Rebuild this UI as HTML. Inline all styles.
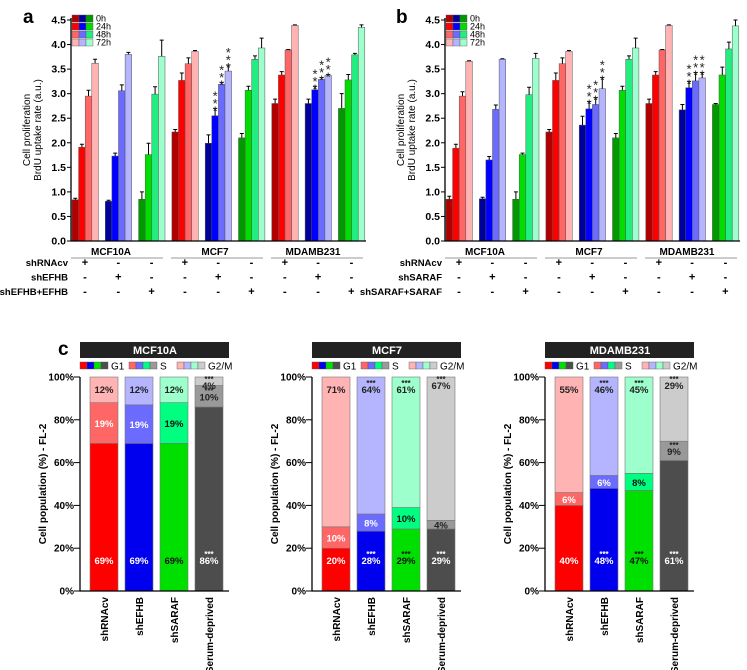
<!DOCTYPE html>
<html><head><meta charset="utf-8">
<style>
html,body{margin:0;padding:0;background:#fff;}
svg{display:block;font-family:"Liberation Sans",Arial,sans-serif;}
</style></head>
<body>
<svg id="fig" width="747" height="670" viewBox="0 0 747 670" xmlns="http://www.w3.org/2000/svg">
<text x="23" y="23" font-size="19" font-weight="bold">a</text>
<text x="396" y="23" font-size="19" font-weight="bold">b</text>
<text x="58" y="355" font-size="19" font-weight="bold">c</text>
</svg>
<script>
// ---------- Data: panels a / b (BrdU uptake) ----------
const timeLabels = ["0h","24h","48h","72h"];
const cellLines = ["MCF10A","MCF7","MDAMB231"];
const yTicksAB = [0,0.5,1.0,1.5,2.0,2.5,3.0,3.5,4.0,4.5];
const valuesA = [
 [0.84,1.91,2.95,3.62],[0.81,1.73,3.06,3.80],[0.85,1.76,2.99,3.76],
 [2.22,3.27,3.61,3.86],[1.99,2.55,3.19,3.46],[2.10,3.07,3.70,3.93],
 [2.80,3.38,3.89,4.39],[2.80,3.08,3.29,3.37],[2.70,3.28,3.79,4.35]];
const errorsA = [
 [0.03,0.06,0.12,0.08],[0.02,0.06,0.12,0.04],[0.15,0.23,0.15,0.33],
 [0.05,0.15,0.12,0.02],[0.17,0.15,0.04,0.12],[0.09,0.08,0.07,0.20],
 [0.09,0.07,0.01,0.01],[0.09,0.07,0.04,0.02],[0.30,0.11,0.03,0.05]];
const valuesB = [
 [0.85,1.89,2.95,3.66],[0.86,1.65,2.68,3.70],[0.85,1.76,2.98,3.72],
 [2.22,3.27,3.61,3.86],[2.36,2.69,2.78,3.10],[2.10,3.07,3.70,3.93],
 [2.80,3.38,3.89,4.39],[2.67,3.12,3.26,3.32],[2.78,3.38,3.91,4.38]];
const errorsB = [
 [0.06,0.08,0.09,0.01],[0.03,0.07,0.09,0.01],[0.15,0.03,0.15,0.10],
 [0.05,0.15,0.12,0.02],[0.18,0.15,0.14,0.23],[0.09,0.08,0.07,0.20],
 [0.09,0.07,0.01,0.01],[0.11,0.13,0.17,0.11],[0.02,0.16,0.14,0.12]];
const starsAB = [[4,1],[4,2],[4,3],[7,1],[7,2],[7,3]];

// ---------- Data: panel c (cell cycle) ----------
const cycleCats = ["shRNAcv","shEFHB","shSARAF","Serum-deprived"];
const yTicksC = [0,20,40,60,80,100];
const g1MCF10A = [69,69,69,86], sMCF10A = [19,18,19,10];
const g1MCF7 = [20,28,29,29], sMCF7 = [10,8,10,4];
const g1MDA = [40,48,47,61], sMDA = [6,6,8,9];
const lblMCF10A = [["69%","19%","12%"],["69%","19%","12%"],["69%","19%","12%"],["86%","10%","4%"]];
const lblMCF7 = [["20%","10%","71%"],["28%","8%","64%"],["29%","10%","61%"],["29%","4%","67%"]];
const lblMDA = [["40%","6%","55%"],["48%","6%","46%"],["47%","8%","45%"],["61%","9%","29%"]];
const starMCF10A = [[0,0,0],[0,0,0],[0,0,0],[1,1,1]];
const starMCF7 = [[0,0,0],[1,0,1],[1,0,1],[1,1,1]];
const starMDA = [[0,0,0],[1,0,1],[1,0,1],[1,1,1]];

const NS="http://www.w3.org/2000/svg";
const svg=document.getElementById('fig');
function mk(tag,attrs,parent){const e=document.createElementNS(NS,tag);for(const k in attrs)e.setAttribute(k,attrs[k]);(parent||svg).appendChild(e);return e;}
const fam=[["#b00000","#ff0000","#ff6666","#ffb3b3"],["#00009c","#0000ff","#6b6bff","#b5b5ff"],["#009a00","#00dd00","#22ee80","#9cffcc"]];

function barPanel(ax,vals,errs,rowLabels,pfx){
  const y0=241, yTop=20, ppu=(y0-yTop)/4.5;
  const Y=v=>y0-v*ppu;
  const gX=g=>ax+1+g*33.3;
  const bw=6.6;
  const g=mk('g',{});
  
  
  vals.forEach((grp,gi)=>{
    grp.forEach((v,bi)=>{
      const x=gX(gi)+bi*bw;
      const r=mk('rect',{x:x,y:Y(v),width:bw,height:Y(0)-Y(v),fill:fam[gi%3][bi],stroke:"#555","stroke-width":0.5},g);
      
      
      const e=errs[gi][bi], cx=x+bw/2;
      const l=mk('path',{d:`M${cx} ${Y(v)}V${Y(v+e)}M${cx-2} ${Y(v+e)}H${cx+2}`,stroke:"#000","stroke-width":1,fill:"none"},g);
      
      
    });
  });
  starsAB.forEach(([gi,bi])=>{
    const v=vals[gi][bi]+errs[gi][bi];
    const cx=gX(gi)+bi*bw+bw/2;
    for(let k=0;k<3;k++){
      const t=mk('text',{x:cx,y:Y(v)-k*7.5+7,"font-size":13,"text-anchor":"middle",fill:"#222"},g);
      t.textContent="*";
      
      
    }
  });
  mk('path',{d:`M${ax} ${yTop-2}V${y0}H${ax+295}`,stroke:"#000","stroke-width":1.3,fill:"none"},g);
  yTicksAB.forEach(t=>{
    mk('line',{x1:ax-4,x2:ax,y1:Y(t),y2:Y(t),stroke:"#000","stroke-width":1},g);
    const tx=mk('text',{x:ax-5,y:Y(t)+3.5,"font-size":10.5,"font-weight":"bold","text-anchor":"end"},g);
    tx.textContent=t.toFixed(1);
    
    
  });
  const yl=mk('text',{transform:`translate(${ax-41},130) rotate(-90)`,"font-size":10,"text-anchor":"middle"},g);
  
  
  const t1=mk('tspan',{x:0,dy:0},yl);t1.textContent="Cell proliferation";
  const t2=mk('tspan',{x:0,dy:11},yl);t2.textContent="BrdU uptake rate (a.u.)";
  timeLabels.forEach((lab,i)=>{
    for(let f=0;f<3;f++){
      mk('rect',{x:ax+1+f*7,y:15+i*8,width:7,height:7,fill:fam[f][i],stroke:"#555","stroke-width":0.4},g);
    }
    const lt=mk('text',{x:ax+25,y:21.5+i*8,"font-size":9},g);
    lt.textContent=lab;
    
    
  });
  const cOff=[40,144,242];
  cellLines.forEach((c,i)=>{
    const ct=mk('text',{x:ax+cOff[i],y:255,"font-size":10,"font-weight":"bold","text-anchor":"middle"},g);
    ct.textContent=c;
    
    
    mk('line',{x1:ax+i*100,x2:ax+92+i*100,y1:258,y2:258,stroke:"#999","stroke-width":1},g);
  });
  rowLabels.forEach((r,ri)=>{
    const y=266+ri*14.5;
    const rt=mk('text',{x:ax-3,y:y,"font-size":9.5,"font-weight":"bold","text-anchor":"end"},g);
    rt.textContent=r;
    
    
    for(let gi=0;gi<9;gi++){
      const s=mk('text',{x:gX(gi)+13,y:y,"font-size":11,"font-weight":"bold","text-anchor":"middle"},g);
      s.textContent=(gi%3===ri)?"+":"-";
    }
  });
}
barPanel(71,valuesA,errorsA,["shRNAcv","shEFHB","shEFHB+EFHB"],"panel-a");
barPanel(445,valuesB,errorsB,["shRNAcv","shSARAF","shSARAF+SARAF"],"panel-b");

const cfam=[["#ff0000","#ff6666","#ffb3b3"],["#0000ee","#6b6bff","#b5b5ff"],["#00e000","#00ff80","#9cffcc"],["#4d4d4d","#999999","#cccccc"]];
const cText=[["#fff","#fff","#222"],["#fff","#fff","#222"],["#111","#111","#222"],["#fff","#222","#222"]];
function cyclePanel(ax,title,g1,s,lbl,stars,pfx){
  const y0=591, y100=377;
  const Y=p=>y0-p*(y0-y100)/100;
  const g=mk('g',{});
  
  
  const tb=mk('rect',{x:ax,y:342,width:149,height:16,fill:"#222"},g);
  
  
  const tt=mk('text',{x:ax+75,y:354,"font-size":11,"font-weight":"bold",fill:"#fff","text-anchor":"middle"},g);
  tt.textContent=title;
  ["G1","S","G2/M"].forEach((lab,k)=>{
    const lx=ax+[0,49,97][k];
    for(let f=0;f<4;f++) mk('rect',{x:lx+f*7,y:362,width:7,height:7,fill:cfam[f][k],stroke:"#555","stroke-width":0.4},g);
    const lt=mk('text',{x:lx+31,y:369.5,"font-size":10},g);
    lt.textContent=lab;
    
    
  });
  cycleCats.forEach((c,i)=>{
    const x=ax+10+i*35, w=28;
    const segs=[[0,g1[i]],[g1[i],g1[i]+s[i]],[g1[i]+s[i],100]];
    segs.forEach(([a,b],k)=>{
      const r=mk('rect',{x:x,y:Y(b),width:w,height:Y(a)-Y(b),fill:cfam[i][k],stroke:"#777","stroke-width":0.6},g);
      
      
      let ly = k===0 ? Y(0)-27 : (k===1 ? (Y(a)+Y(b))/2+4 : Y(100)+16);
      if(i===3 && k===2) ly=Y(100)+12;
      const pt=mk('text',{x:x+w/2,y:ly,"font-size":9.5,"font-weight":"bold",fill:cText[i][k],"text-anchor":"middle"},g);
      pt.textContent=lbl[i][k];
      
      
      if(stars[i][k]){
        const st=mk('text',{x:x+w/2,y:ly-7,"font-size":8,"font-weight":"bold",fill:cText[i][k],"text-anchor":"middle"},g);
        st.textContent="***";
      }
    });
    const xl=mk('text',{transform:`translate(${x+w/2+4},597) rotate(-90)`,"font-size":10,"font-weight":"bold","text-anchor":"end"},g);
    xl.textContent=c;
    
    
  });
  mk('path',{d:`M${ax} ${y100}V${y0}H${ax+149}`,stroke:"#000","stroke-width":1.3,fill:"none"},g);
  yTicksC.forEach(t=>{
    mk('line',{x1:ax-6,x2:ax,y1:Y(t),y2:Y(t),stroke:"#000","stroke-width":1},g);
    const tx=mk('text',{x:ax-6,y:Y(t)+3.5,"font-size":10,"font-weight":"bold","text-anchor":"end"},g);
    tx.textContent=t+"%";
    
    
  });
  const yl=mk('text',{transform:`translate(${ax-34},484) rotate(-90)`,"font-size":10,"font-weight":"bold","text-anchor":"middle"},g);
  yl.textContent="Cell population (%) - FL-2";
  
  
}
cyclePanel(80,"MCF10A",g1MCF10A,sMCF10A,lblMCF10A,starMCF10A,"panel-c-mcf10a");
cyclePanel(312,"MCF7",g1MCF7,sMCF7,lblMCF7,starMCF7,"panel-c-mcf7");
cyclePanel(545,"MDAMB231",g1MDA,sMDA,lblMDA,starMDA,"panel-c-mdamb231");
</script>
</body></html>
